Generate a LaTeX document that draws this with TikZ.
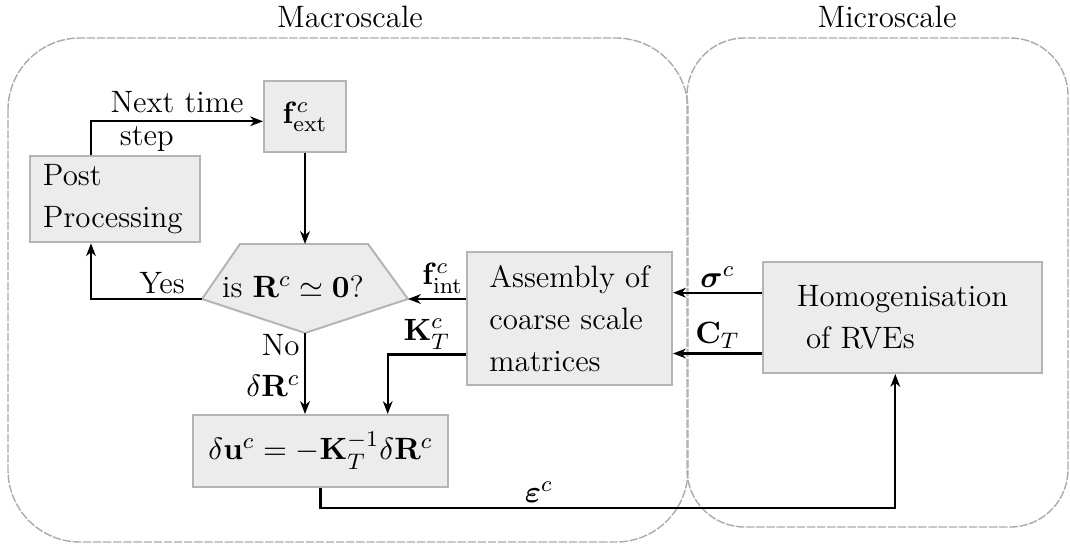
\documentclass[tikz,border=0pt]{standalone}
\usepackage{amsmath,bm}
\usepackage{tikz}
\usetikzlibrary{arrows.meta,positioning,calc}
\definecolor{MSFill}  {HTML}{ECECEC}
\definecolor{MSEdge}  {HTML}{B4B4B4}
\definecolor{MSFrame} {HTML}{ABABAB}
\begin{document}
\begin{tikzpicture}[x=0.0125cm,y=-0.0125cm,
    font=\fontsize{11}{15}\selectfont,
    blk/.style={draw=MSEdge,fill=MSFill,line width=0.7pt,inner sep=3pt},
    frame/.style={draw=MSFrame,line width=0.5pt,dash pattern=on 3pt off 0.6pt},
    ar/.style={-{Stealth[length=4.5pt,width=3.4pt,inset=1.3pt]},line width=0.8pt,black},
    lab/.style={inner sep=1.5pt}
  ]
    \useasboundingbox (0,0) rectangle (1070,548);
    % scale frames
    \draw[frame,rounded corners=0.9cm] (8,38) rectangle (688,542);
    \draw[frame,rounded corners=0.72cm] (687,38) rectangle (1068,527);
    \node (macro) at (350,17) {Macroscale};
    \node (micro) at (887,17) {Microscale};
    % macroscale boxes
    \node[blk,minimum width=1.025cm,minimum height=0.8875cm] (fext) at (305,116.5)
         {$\mathbf{f}^c_{\mathrm{ext}}$};
    \node[blk,minimum width=2.125cm,minimum height=0.925cm,
          text width=1.8cm,align=left] (post) at (115,199) {Post\\Processing};
    \coordinate (dt)  at (305,244);
    \coordinate (dtl) at (240,244);
    \coordinate (dtr) at (368,244);
    \coordinate (dr)  at (408,299);
    \coordinate (db)  at (305,333);
    \coordinate (dl)  at (202,299);
    \draw[draw=MSEdge,fill=MSFill,line width=0.7pt]
         (dtl) -- (dtr) -- (dr) -- (db) -- (dl) -- cycle;
    \node (dec) at (293,287) {is $\mathbf{R}^c \simeq \mathbf{0}$?};
    \node[blk,minimum width=2.5625cm,minimum height=1.6625cm,align=left] (asm) at (569.5,318.5)
         {Assembly of\\coarse scale\\matrices};
    \node[blk,minimum width=3.1875cm,minimum height=0.9cm] (du) at (320.5,451)
         {$\delta\mathbf{u}^c = -\mathbf{K}_T^{-1}\delta\mathbf{R}^c$};
    % microscale box
    \node[blk,minimum width=3.4875cm,minimum height=1.3875cm,align=left] (hom) at (902.5,317.5)
         {Homogenisation\\\hspace{0.3em}of RVEs};
    % connectors
    \draw[ar] ([xshift=-0.3cm]post.north) |-
      node[pos=0.75,align=left,font=\fontsize{11}{11.5}\selectfont] {Next time\\\hspace{0.3em}step}
      ([yshift=-0.06cm]fext.west);
    \draw[ar] (dl) -| node[pos=0.18,above,lab] {Yes} ([xshift=-0.3cm]post.south);
    \draw[ar] (fext.south) -- (dt);
    \draw[ar] (dr -| asm.west) -- node[pos=0.4,above,lab] {$\mathbf{f}^c_{\mathrm{int}}$} (dr);
    \draw[ar] (db) -- node[pos=0.15,left,lab] {No}
      node[pos=0.65,left,lab] {$\delta\mathbf{R}^c$} (db |- du.north);
    \draw[ar] ([yshift=-0.45cm]asm.west) -| node[pos=0.25,above,lab] {$\mathbf{K}^c_T$}
      ([xshift=0.84cm]du.north);
    \foreach \dy/\txt in {0.31cm/{$\bm{\sigma}^c$},-0.45cm/{$\mathbf{C}_T$}}
      \draw[ar] ([yshift=\dy]hom.west) -- node[above,lab] {\txt} ([yshift=\dy]hom.west -| asm.east);
    \draw[ar] (du.south) -- ++(0,20) -| node[pos=0.19,above,lab] {$\bm{\varepsilon}^c$}
      ([xshift=-0.09cm]hom.south);
  \end{tikzpicture}
\end{document}
